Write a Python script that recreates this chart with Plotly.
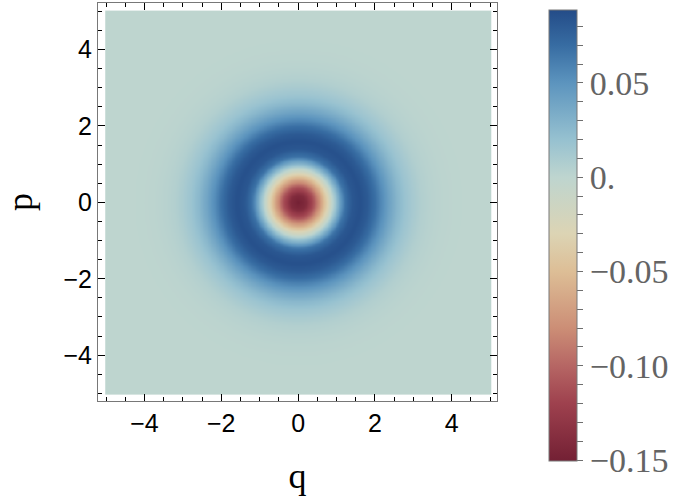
import numpy as np
import plotly.graph_objects as go

### radial profile (value vs distance from origin)
radius = [0.0, 0.2, 0.4, 0.6, 0.8, 1.0, 1.2, 1.4, 1.6, 1.8, 2.0, 2.2, 2.4, 2.6,
          2.8, 3.0, 3.2, 3.4, 3.6, 3.8, 4.0, 4.5, 7.5]
wvalue = [-0.150, -0.140, -0.110, -0.065, -0.020, 0.025, 0.066, 0.082, 0.086,
          0.080, 0.068, 0.052, 0.038, 0.026, 0.017, 0.011, 0.006, 0.0035,
          0.002, 0.001, 0.0005, 0.0, 0.0]

q = np.linspace(-5, 5, 241)
p = np.linspace(-5, 5, 241)
qq, pp = np.meshgrid(q, p)
w = np.interp(np.hypot(qq, pp), radius, wvalue)

cbar_ticks = [round(-0.15 + 0.01 * i, 2) for i in range(24)]
cbar_labels = {0.05: "0.05", 0.0: "0.", -0.05: "\u22120.05", -0.1: "\u22120.10", -0.15: "\u22120.15"}

zmin, zmax = -0.1505, 0.0886
def pos(v):
    return (v - zmin) / (zmax - zmin)

colors = [
    (pos(-0.1505), "rgb(115,32,52)"),
    (pos(-0.12), "rgb(158,65,78)"),
    (pos(-0.10), "rgb(182,102,100)"),
    (pos(-0.08), "rgb(204,142,118)"),
    (pos(-0.05), "rgb(221,190,150)"),
    (pos(-0.03), "rgb(220,212,180)"),
    (pos(0.0), "rgb(190,213,207)"),
    (pos(0.02), "rgb(150,193,208)"),
    (pos(0.05), "rgb(92,148,190)"),
    (pos(0.07), "rgb(55,108,162)"),
    (pos(0.0886), "rgb(36,76,136)"),
]

fig = go.Figure(go.Heatmap(
    x=q, y=p, z=w, zmin=zmin, zmax=zmax, zsmooth="best",
    colorscale=colors,
    colorbar=dict(
        thickness=28, lenmode="pixels", len=451,
        x=1.13, xanchor="left", xpad=0,
        y=-0.151, yanchor="bottom", ypad=0,
        outlinecolor="rgb(120,120,120)", outlinewidth=1,
        tickvals=cbar_ticks,
        ticktext=[cbar_labels.get(t, "") for t in cbar_ticks],
        ticks="outside", ticklen=6, tickcolor="rgb(110,110,110)",
        tickfont=dict(family="Liberation Serif", size=34, color="rgb(100,100,100)"),
    ),
))

axis_common = dict(
    showgrid=False, zeroline=False, automargin=False,
    showline=True, linecolor="rgb(120,120,120)", linewidth=1, mirror="ticks",
    ticks="inside", ticklen=7, tickcolor="black",
    tickvals=[-4, -2, 0, 2, 4], ticktext=["\u22124", "\u22122", "0", "2", "4"],
    minor=dict(dtick=0.5, ticks="inside", ticklen=4, tickcolor="black"),
    tickfont=dict(family="Liberation Sans", size=25, color="black"),
)

fig.update_layout(
    width=678, height=500,
    margin=dict(l=98, r=181, t=3, b=99),
    plot_bgcolor="white", paper_bgcolor="white",
    xaxis=dict(axis_common, range=[-5.21, 5.18], title=dict(text="q", standoff=26,
               font=dict(family="Liberation Serif", size=36, color="black"))),
    yaxis=dict(axis_common, range=[-5.2, 5.22], title=dict(text="p", standoff=26,
               font=dict(family="Liberation Serif", size=36, color="black"))),
)

# page body has an 8px default margin; drop it so the figure sits at the corner
fig.write_html("out.html", config={"displayModeBar": False},
               post_script="document.body.style.margin='0px';")
